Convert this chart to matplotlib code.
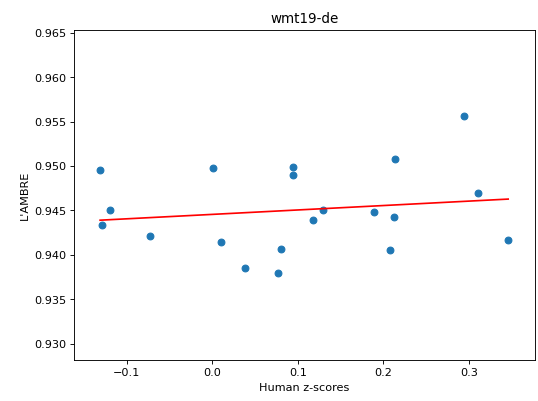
import numpy as np
import matplotlib
matplotlib.use("Agg")
import matplotlib.pyplot as plt

# human z-scores vs metric score per system, wmt19 en-de
human_z = [-0.1312, -0.1193, -0.1294, -0.0725, 0.0012, 0.0102, 0.0382,
           0.0768, 0.0807, 0.0940, 0.0940, 0.1181, 0.1295, 0.1888,
           0.2082, 0.2125, 0.2133, 0.2947, 0.3111, 0.3458]
lambre = [0.94953, 0.94501, 0.94336, 0.94216, 0.94983, 0.94144, 0.93847,
          0.93798, 0.94069, 0.94986, 0.94904, 0.94396, 0.94501, 0.94483,
          0.94058, 0.94427, 0.95081, 0.95559, 0.94693, 0.94167]

x = np.array(human_z)
y = np.array(lambre)
slope, intercept = np.polyfit(x, y, 1)
xs = np.array([x.min(), x.max()])

fig = plt.figure(figsize=(6.645, 4.955), dpi=81)
ax = fig.add_axes([0.1375, 0.1022, 0.8556, 0.8230])
ax.scatter(x, y)
ax.plot(xs, slope * xs + intercept, color='red')
ax.set_xlim(-0.1617, 0.3766)
ax.set_ylim(0.92816, 0.96537)
ax.set_title('wmt19-de')
ax.set_xlabel('Human z-scores')
ax.set_ylabel("L'AMBRE")
fig.savefig('out.png', dpi=81)
